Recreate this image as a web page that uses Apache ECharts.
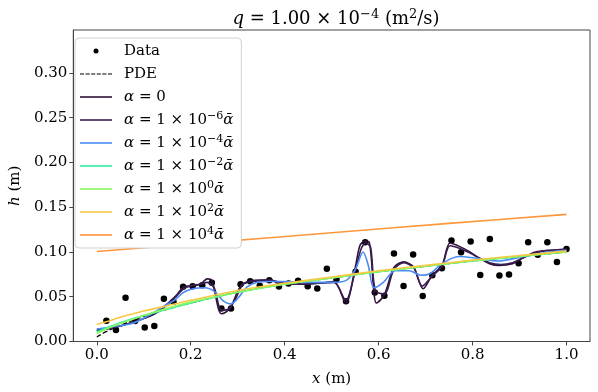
<!DOCTYPE html>
<html>
<head>
<meta charset="utf-8">
<script src="https://cdn.jsdelivr.net/npm/echarts@6/dist/echarts.min.js"></script>
<style>
  html, body { margin: 0; padding: 0; background: #fff; }
  #main { width: 598px; height: 392px; }
</style>
</head>
<body>
<div id="main"></div>
<script>
// observed points, x = i/49
var dataX = [];
for (var i = 1; i <= 49; i++) dataX.push(i / 49);
var dataH = [0.0233, 0.0129, 0.0489, 0.0229, 0.0156, 0.0173, 0.0478, 0.0444, 0.0611, 0.0618,
             0.0629, 0.0656, 0.0370, 0.0370, 0.0640, 0.0674, 0.0622, 0.0685, 0.0614, 0.0648,
             0.0678, 0.0618, 0.0592, 0.0814, 0.0696, 0.0451, 0.0778, 0.1110, 0.0548, 0.0511,
             0.0984, 0.0620, 0.0973, 0.0507, 0.0740, 0.0818, 0.1129, 0.0996, 0.1118, 0.0744,
             0.1144, 0.0737, 0.0748, 0.0874, 0.1110, 0.0970, 0.1110, 0.0889, 0.1033];

// smooth curves sampled at these x
var smoothX = [0, 0.02, 0.05, 0.1, 0.15, 0.2, 0.3, 0.4, 0.5, 0.6, 0.7, 0.8, 0.9, 1.0];
var pdeH   = [0.005, 0.011, 0.018, 0.028, 0.036, 0.043, 0.055, 0.064, 0.071, 0.078, 0.084, 0.090, 0.095, 0.100];
var a1e_2H = [0.011, 0.015, 0.021, 0.029, 0.036, 0.043, 0.055, 0.064, 0.071, 0.078, 0.084, 0.090, 0.095, 0.100];
var a1e0H  = [0.009, 0.014, 0.020, 0.029, 0.037, 0.044, 0.055, 0.064, 0.071, 0.078, 0.084, 0.090, 0.095, 0.100];
var a1e2H  = [0.019, 0.022, 0.027, 0.034, 0.040, 0.046, 0.057, 0.065, 0.072, 0.079, 0.085, 0.091, 0.096, 0.101];

var a1e4X = [0, 0.25, 0.5, 0.75, 1.0];
var a1e4H = [0.1005, 0.111, 0.1215, 0.132, 0.142];

var a1e_4X = [0, 0.04, 0.075, 0.11, 0.145, 0.165, 0.185, 0.205, 0.23, 0.25, 0.27, 0.285, 0.30, 0.32, 0.34,
              0.37, 0.40, 0.45, 0.50, 0.53, 0.55, 0.567, 0.578, 0.59, 0.61, 0.635, 0.665, 0.69, 0.71,
              0.735, 0.77, 0.81, 0.855, 0.9, 0.93, 0.96, 1.0];
var a1e_4H = [0.014, 0.017, 0.020, 0.029, 0.040, 0.046, 0.055, 0.059, 0.060, 0.056, 0.045, 0.042, 0.048, 0.061, 0.066,
              0.067, 0.067, 0.066, 0.066, 0.068, 0.080, 0.100, 0.085, 0.060, 0.066, 0.079, 0.079, 0.074, 0.076,
              0.087, 0.095, 0.093, 0.090, 0.094, 0.097, 0.100, 0.102];

var a0X = [0, 0.04, 0.08, 0.12, 0.15, 0.17, 0.185, 0.2, 0.215, 0.225, 0.235, 0.245, 0.265, 0.275, 0.285,
           0.3, 0.31, 0.33, 0.37, 0.39, 0.43, 0.47, 0.505, 0.53, 0.55, 0.56, 0.57, 0.58, 0.59, 0.595,
           0.612, 0.633, 0.654, 0.665, 0.675, 0.695, 0.714, 0.735, 0.752, 0.773, 0.794, 0.815, 0.836,
           0.857, 0.885, 0.906, 0.934, 0.969, 1.0];
var a0H = [0.012, 0.016, 0.022, 0.030, 0.042, 0.052, 0.061, 0.062, 0.063, 0.066, 0.070, 0.068, 0.031, 0.033, 0.038,
           0.056, 0.064, 0.068, 0.069, 0.064, 0.064, 0.065, 0.067, 0.043, 0.082, 0.107, 0.112, 0.111, 0.055, 0.043,
           0.052, 0.083, 0.089, 0.087, 0.083, 0.059, 0.074, 0.085, 0.110, 0.106, 0.100, 0.093, 0.087,
           0.085, 0.087, 0.093, 0.100, 0.102, 0.103];

var a1e_6X = [0, 0.04, 0.08, 0.12, 0.15, 0.17, 0.185, 0.2, 0.22, 0.235, 0.25, 0.265, 0.28, 0.295,
              0.31, 0.33, 0.37, 0.40, 0.43, 0.47, 0.505, 0.53, 0.55, 0.563, 0.573, 0.583, 0.593,
              0.612, 0.633, 0.654, 0.675, 0.693, 0.714, 0.735, 0.752, 0.773, 0.794, 0.815, 0.836,
              0.86, 0.885, 0.91, 0.94, 0.97, 1.0];
var a1e_6H = [0.013, 0.016, 0.022, 0.030, 0.041, 0.051, 0.059, 0.062, 0.064, 0.066, 0.060, 0.035, 0.036, 0.047,
              0.063, 0.067, 0.068, 0.065, 0.064, 0.065, 0.066, 0.046, 0.078, 0.104, 0.110, 0.105, 0.057,
              0.053, 0.081, 0.088, 0.082, 0.062, 0.073, 0.084, 0.107, 0.104, 0.099, 0.093, 0.088,
              0.086, 0.088, 0.094, 0.100, 0.102, 0.103];

var xTicks = [0, 0.2, 0.4, 0.6, 0.8, 1.0];
var yTicks = [0, 0.05, 0.10, 0.15, 0.20, 0.25, 0.30];

// legend names -> exponent shown as superscript
var legendNames = ['Data', 'PDE', 'α = 0', 'α = 1 × 10^−6', 'α = 1 × 10^−4', 'α = 1 × 10^−2',
                   'α = 1 × 10^0', 'α = 1 × 10^2', 'α = 1 × 10^4'];

function pairs(xs, ys) {
  return xs.map(function (x, k) { return [x, ys[k]]; });
}

var font = 'DejaVu Serif';
var myChart = echarts.init(document.getElementById('main'));

var solidIcon = 'path://M0,0h32v1.6h-32z';
var dashIcon = 'path://M0,0h4v1.2h-4z M5.5,0h4v1.2h-4z M11,0h4v1.2h-4z M16.5,0h4v1.2h-4z M22,0h4v1.2h-4z M27.5,0h4v1.2h-4z';

function lineSeries(name, xs, ys, color, dashed) {
  return {
    name: name,
    type: 'line',
    data: pairs(xs, ys),
    showSymbol: false,
    symbol: 'none',
    smooth: dashed ? true : 0.3,
    lineStyle: { color: color, width: dashed ? 1.2 : 1.6, type: dashed ? 'dashed' : 'solid' },
    itemStyle: { color: color },
    silent: true
  };
}

var rich = {
  i: { fontFamily: font, fontStyle: 'italic', fontSize: 15, color: '#000', lineHeight: 18 },
  s: { fontFamily: font, fontSize: 11, color: '#000', verticalAlign: 'top', lineHeight: 11 }
};

option = {
  animation: false,
  backgroundColor: '#fff',
  title: {
    text: '{i|q} = 1.00 × 10{s|−4} (m{s|2}/s)',
    left: 331,
    top: 3,
    textAlign: 'center',
    textStyle: {
      fontFamily: font, fontSize: 18, fontWeight: 'normal', color: '#000', lineHeight: 22,
      rich: {
        i: { fontFamily: font, fontStyle: 'italic', fontSize: 18, color: '#000', lineHeight: 22 },
        s: { fontFamily: font, fontSize: 13, color: '#000', verticalAlign: 'top', lineHeight: 13 }
      }
    }
  },
  grid: {
    left: 67, right: 8, top: 30, bottom: 49,
    show: true, borderColor: '#444', borderWidth: 1
  },
  legend: {
    orient: 'vertical',
    left: 75,
    top: 38,
    padding: [4, 8, 4, 5],
    itemWidth: 32,
    itemHeight: 5,
    itemGap: 5,
    backgroundColor: '#fff',
    borderColor: '#d0d0d0',
    borderWidth: 1,
    borderRadius: 4,
    textStyle: { fontFamily: font, fontSize: 15, color: '#000', lineHeight: 18, padding: [0, 0, 0, 7], rich: rich },
    data: legendNames.map(function (n, k) {
      if (k === 0) return { name: n, icon: 'circle', itemStyle: { color: '#000', opacity: 1 } };
      return { name: n, icon: k === 1 ? dashIcon : solidIcon };
    }),
    formatter: function (name) {
      if (name.indexOf('^') < 0) return name.replace(/^α/, '{i|α}');
      var p = name.split('^');
      return p[0].replace(/^α/, '{i|α}') + '{s|' + p[1] + '}{i|ᾱ}';
    }
  },
  xAxis: {
    type: 'value',
    min: -0.05,
    max: 1.05,
    name: '{i|x} (m)',
    nameLocation: 'middle',
    nameGap: 29,
    nameTextStyle: { fontFamily: font, fontSize: 15, color: '#000', rich: rich },
    axisLine: { show: true, onZero: false, lineStyle: { color: '#444' } },
    axisTick: { show: true, length: 4, customValues: xTicks, lineStyle: { color: '#444' } },
    axisLabel: {
      customValues: xTicks, margin: 6,
      fontFamily: font, fontSize: 15, color: '#000',
      formatter: function (v) { return v.toFixed(1); }
    },
    splitLine: { show: false }
  },
  yAxis: {
    type: 'value',
    min: 0,
    max: 0.348,
    name: '{i|h} (m)',
    nameLocation: 'middle',
    nameGap: 48,
    nameTextStyle: { fontFamily: font, fontSize: 15, color: '#000', rich: rich },
    axisLine: { show: true, onZero: false, lineStyle: { color: '#444' } },
    axisTick: { show: true, length: 4, customValues: yTicks, lineStyle: { color: '#444' } },
    axisLabel: {
      customValues: yTicks, margin: 6,
      fontFamily: font, fontSize: 15, color: '#000',
      formatter: function (v) { return v.toFixed(2); }
    },
    splitLine: { show: false }
  },
  series: [
    {
      name: 'Data',
      type: 'scatter',
      data: pairs(dataX, dataH),
      symbolSize: 6.5,
      itemStyle: { color: '#000', opacity: 1 },
      silent: true
    },
    lineSeries('PDE', smoothX, pdeH, '#000', true),
    lineSeries(legendNames[2], a0X, a0H, '#30123b'),
    lineSeries(legendNames[3], a1e_6X, a1e_6H, '#3a1d52'),
    lineSeries(legendNames[4], a1e_4X, a1e_4H, '#4b8cf5'),
    lineSeries(legendNames[5], smoothX, a1e_2H, '#2ef0a2'),
    lineSeries(legendNames[6], smoothX, a1e0H, '#88f862'),
    lineSeries(legendNames[7], smoothX, a1e2H, '#f8c844'),
    lineSeries(legendNames[8], a1e4X, a1e4H, '#fd973a')
  ]
};

myChart.setOption(option);
</script>
</body>
</html>
